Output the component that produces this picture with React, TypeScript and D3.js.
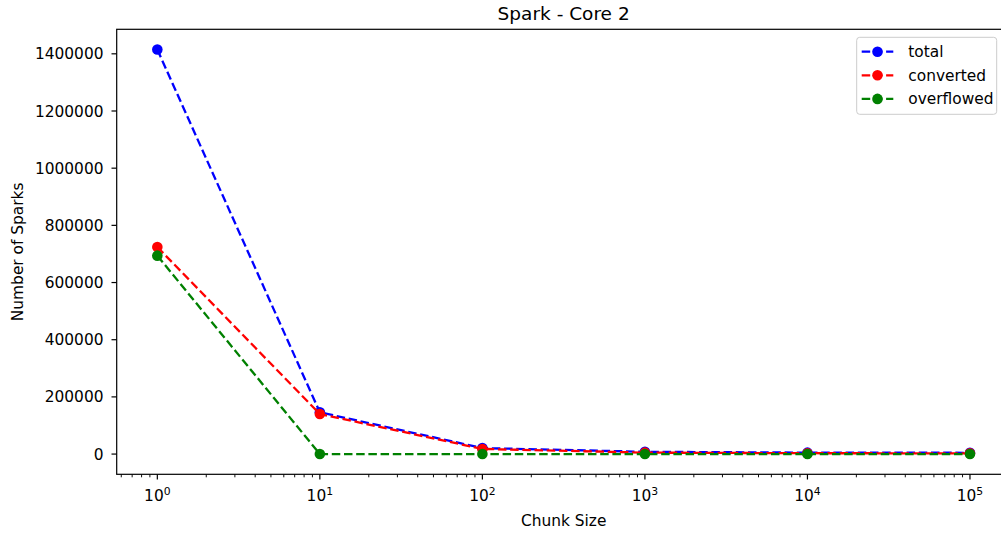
import React from "react";
import * as d3 from "d3";

const chunkSizes = [1, 10, 100, 1000, 10000, 100000];
const totalSparks = [1415000, 146000, 21000, 8000, 5000, 4500];
const convertedSparks = [724000, 140000, 18000, 5000, 3000, 2500];
const overflowedSparks = [694000, 0, 0, 0, 0, 0];
const yTicks = [0, 200000, 400000, 600000, 800000, 1000000, 1200000, 1400000];
const xTickExps = [0, 1, 2, 3, 4, 5];

const series = [
  { name: "total", values: totalSparks, color: "#0000ff" },
  { name: "converted", values: convertedSparks, color: "#ff0000" },
  { name: "overflowed", values: overflowedSparks, color: "#008000" },
];

const W = 1001;
const H = 533;
const L = 116.7;
const R = 1010.6;
const T = 29.3;
const B = 474.3;
const FONT = "DejaVu Sans, sans-serif";
const FS = 15.4;
const DASH = "8.5,3.7";
const LW = 2.3;
const MR = 5.3;
const TICK = 5.2;

export default function App() {
  const x = d3.scaleLog().domain([Math.pow(10, -0.25), Math.pow(10, 5.25)]).range([L, R]);
  const allVals = series.flatMap((s) => s.values);
  const ymin = d3.min(allVals)!;
  const ymax = d3.max(allVals)!;
  const pad = (ymax - ymin) * 0.05;
  const y = d3.scaleLinear().domain([ymin - pad, ymax + pad]).range([B, T]);

  const minorTicks: number[] = [];
  for (let e = -1; e <= 5; e++) {
    for (let m = 2; m <= 9; m++) {
      const v = m * Math.pow(10, e);
      const px = x(v);
      if (px >= L && px <= R) minorTicks.push(v);
    }
  }

  const line = d3
    .line<number>()
    .x((_, i) => x(chunkSizes[i]))
    .y((d) => y(d));

  const legendX = 856.7;
  const legendY = 37.3;
  const legendW = 140;
  const legendH = 77;

  return (
    <svg
      width={W}
      height={H}
      style={{ position: "absolute", left: 0, top: 0, background: "#fff" }}
      fontFamily={FONT}
    >
      <rect x={0} y={0} width={W} height={H} fill="#fff" />
      <text x={(L + R) / 2} y={20} textAnchor="middle" fontSize={18.5} fill="#000">
        Spark - Core 2
      </text>
      {yTicks.map((t) => (
        <g key={t}>
          <line x1={L - TICK} x2={L} y1={y(t)} y2={y(t)} stroke="#000" strokeWidth={1.2} />
          <text x={103.5} y={y(t)} dy="0.36em" textAnchor="end" fontSize={FS} fill="#000">
            {t}
          </text>
        </g>
      ))}
      {xTickExps.map((e) => {
        const px = x(Math.pow(10, e));
        return (
          <g key={e}>
            <line x1={px} x2={px} y1={B} y2={B + TICK} stroke="#000" strokeWidth={1.2} />
            <text x={px} y={500.5} textAnchor="middle" fontSize={FS} fill="#000">
              <tspan>10</tspan>
              <tspan fontSize={10.8} dy={-5.5}>{e}</tspan>
            </text>
          </g>
        );
      })}
      {minorTicks.map((v, i) => (
        <line key={i} x1={x(v)} x2={x(v)} y1={B} y2={B + 3} stroke="#000" strokeWidth={0.95} />
      ))}
      <text x={(L + R) / 2} y={526} textAnchor="middle" fontSize={FS} fill="#000">
        Chunk Size
      </text>
      <text
        transform={`translate(23, ${(T + B) / 2}) rotate(-90)`}
        textAnchor="middle"
        fontSize={FS}
        fill="#000"
      >
        Number of Sparks
      </text>
      {series.map((s) => (
        <g key={s.name}>
          <path d={line(s.values)!} fill="none" stroke={s.color} strokeWidth={LW} strokeDasharray={DASH} />
          {s.values.map((v, i) => (
            <circle key={i} cx={x(chunkSizes[i])} cy={y(v)} r={MR} fill={s.color} />
          ))}
        </g>
      ))}
      <rect x={L} y={T} width={R - L} height={B - T} fill="none" stroke="#000" strokeWidth={1.2} />
      <rect
        x={legendX}
        y={legendY}
        width={legendW}
        height={legendH}
        rx={3}
        fill="#fff"
        fillOpacity={0.8}
        stroke="#cccccc"
        strokeWidth={1}
      />
      {series.map((s, i) => {
        const cy = 51.7 + i * 23.6;
        return (
          <g key={s.name}>
            <line x1={861.7} x2={893.3} y1={cy} y2={cy} stroke={s.color} strokeWidth={LW} strokeDasharray={DASH} />
            <circle cx={877.5} cy={cy} r={MR} fill={s.color} />
            <text x={908.3} y={cy} dy="0.36em" fontSize={FS} fill="#000">
              {s.name}
            </text>
          </g>
        );
      })}
    </svg>
  );
}
